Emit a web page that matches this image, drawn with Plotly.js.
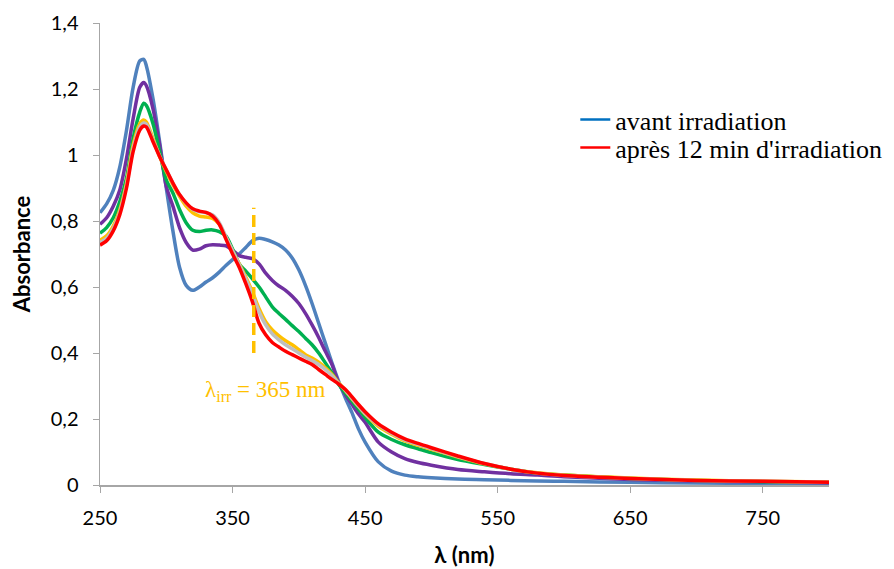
<!DOCTYPE html>
<html>
<head>
<meta charset="utf-8">
<script src="https://cdn.plot.ly/plotly-3.0.1.min.js"></script>
<style>html,body{margin:0;padding:0;background:#fff;}#chart{width:894px;height:569px;}</style>
</head>
<body>
<div id="chart"></div>
<script>
const wavelength = [250,255,260,265,270,275,280,283,285,290,295,300,305,310,315,320,325,330,335,340,345,350,355,360,365,370,375,380,385,390,395,400,405,410,415,420,425,430,435,440,445,450,460,470,480,490,500,520,540,560,580,600,650,700,750,800];

const absBefore = [0.825,0.852,0.893,0.965,1.075,1.205,1.285,1.29,1.27,1.17,1.04,0.90,0.77,0.66,0.605,0.59,0.60,0.615,0.628,0.645,0.665,0.683,0.70,0.72,0.74,0.748,0.744,0.737,0.727,0.712,0.688,0.652,0.605,0.55,0.49,0.43,0.37,0.315,0.265,0.22,0.17,0.13,0.07,0.042,0.03,0.025,0.022,0.018,0.016,0.014,0.012,0.011,0.008,0.006,0.005,0.004];

const absPurple = [0.79,0.81,0.845,0.895,0.99,1.11,1.205,1.22,1.21,1.14,1.03,0.905,0.845,0.78,0.735,0.712,0.715,0.725,0.728,0.727,0.725,0.712,0.695,0.69,0.686,0.67,0.642,0.62,0.603,0.59,0.572,0.55,0.52,0.485,0.447,0.405,0.365,0.31,0.275,0.245,0.215,0.19,0.13,0.10,0.08,0.068,0.06,0.047,0.04,0.034,0.03,0.025,0.017,0.012,0.009,0.007];

const absGreen = [0.763,0.78,0.81,0.86,0.93,1.05,1.13,1.157,1.15,1.095,1.01,0.925,0.885,0.835,0.795,0.772,0.768,0.772,0.773,0.768,0.755,0.715,0.67,0.648,0.625,0.60,0.57,0.54,0.52,0.502,0.483,0.465,0.445,0.425,0.40,0.37,0.34,0.305,0.28,0.255,0.23,0.205,0.16,0.138,0.122,0.11,0.098,0.077,0.062,0.048,0.036,0.03,0.02,0.014,0.01,0.008];

const absYellow = [0.742,0.755,0.785,0.835,0.915,1.03,1.095,1.106,1.10,1.05,0.995,0.95,0.91,0.875,0.845,0.825,0.815,0.812,0.808,0.79,0.75,0.71,0.67,0.63,0.585,0.535,0.495,0.47,0.452,0.437,0.425,0.41,0.395,0.385,0.372,0.355,0.335,0.31,0.287,0.262,0.238,0.215,0.178,0.154,0.134,0.12,0.108,0.085,0.064,0.048,0.037,0.03,0.021,0.015,0.011,0.009];

const absGray = [0.735,0.748,0.778,0.828,0.908,1.02,1.085,1.097,1.093,1.045,0.997,0.955,0.915,0.88,0.853,0.835,0.828,0.825,0.818,0.795,0.752,0.71,0.668,0.625,0.578,0.525,0.485,0.458,0.44,0.425,0.413,0.40,0.388,0.377,0.365,0.35,0.332,0.308,0.288,0.263,0.239,0.217,0.182,0.157,0.137,0.123,0.11,0.086,0.065,0.048,0.036,0.029,0.02,0.014,0.011,0.008];

const absAfter = [0.727,0.74,0.77,0.82,0.90,1.01,1.075,1.088,1.085,1.04,0.995,0.955,0.915,0.88,0.855,0.837,0.83,0.826,0.815,0.79,0.745,0.70,0.66,0.61,0.555,0.49,0.455,0.432,0.418,0.405,0.395,0.385,0.375,0.365,0.35,0.335,0.32,0.306,0.29,0.268,0.244,0.222,0.185,0.16,0.14,0.126,0.113,0.088,0.065,0.048,0.036,0.029,0.02,0.014,0.011,0.008];

const yTickVals = [0,0.2,0.4,0.6,0.8,1,1.2,1.4];
const yTickText = ["0","0,2","0,4","0,6","0,8","1","1,2","1,4"];
const xTickVals = [250,350,450,550,650,750];
const legendNames = ["avant irradiation","après 12 min d'irradiation"];
const irrWavelength = 366;

function curve(y, color, width) {
  return {x: wavelength, y: y, type: 'scatter', mode: 'lines', showlegend: false,
          line: {color: color, width: width, shape: 'spline', smoothing: 0.8}, hoverinfo: 'skip'};
}

const traces = [
  curve(absBefore, '#4F81BD', 3.5),
  curve(absPurple, '#7030A0', 3.5),
  curve(absGreen, '#00B050', 3.5),
  curve(absYellow, '#FFC000', 3.5),
  curve(absGray, '#BFBFBF', 3.5),
  curve(absAfter, '#FF0000', 3.5),
  {x: [null], y: [null], type: 'scatter', mode: 'lines', name: legendNames[0], legend: 'legend', line: {color: '#0070C0', width: 2.5}},
  {x: [null], y: [null], type: 'scatter', mode: 'lines', name: legendNames[1], legend: 'legend2', line: {color: '#FF0000', width: 2.5}}
];

const legendFont = {family: '"Liberation Serif", "Times New Roman", serif', size: 26, color: '#000'};

const layout = {
  width: 894, height: 569,
  margin: {l: 100, r: 65, t: 23, b: 84, autoexpand: false},
  paper_bgcolor: '#fff', plot_bgcolor: '#fff',
  font: {family: 'Lato, "Open Sans", sans-serif', color: '#000', size: 20},
  xaxis: {
    range: [250, 800], tickvals: xTickVals, ticks: 'outside', ticklen: 6, tickcolor: '#A6A6A6',
    showline: true, linecolor: '#A6A6A6', linewidth: 1.5, showgrid: false, zeroline: false,
    tickfont: {size: 20, family: 'Lato, sans-serif'}, ticklabelstandoff: 8,
    title: {text: '<b>λ (nm)</b>', font: {size: 22, family: 'Lato, sans-serif'}, standoff: 20}
  },
  yaxis: {
    range: [0, 1.4], tickvals: yTickVals, ticktext: yTickText, ticks: 'outside', ticklen: 6, tickcolor: '#A6A6A6',
    showline: true, linecolor: '#A6A6A6', linewidth: 1.5, showgrid: false, zeroline: false,
    tickfont: {size: 20, family: 'Lato, sans-serif'}, ticklabelstandoff: 10,
    title: {text: '<b>Absorbance</b>', font: {size: 22, family: 'Lato, sans-serif'}, standoff: 14}
  },
  legend: {
    x: 0.652, y: 0.842, xanchor: 'left', yanchor: 'top', bgcolor: 'rgba(0,0,0,0)',
    font: legendFont, itemwidth: 30
  },
  legend2: {
    x: 0.652, y: 0.781, xanchor: 'left', yanchor: 'top', bgcolor: 'rgba(0,0,0,0)',
    font: legendFont, itemwidth: 30
  },
  shapes: [{
    type: 'line', xref: 'x', yref: 'y', x0: irrWavelength, x1: irrWavelength, y0: 0.40, y1: 0.84,
    line: {color: '#FFC000', width: 3.5, dash: '12px,6px'}
  }],
  annotations: [{
    xref: 'x', yref: 'y', x: irrWavelength, y: 0.285, xshift: 12, showarrow: false,
    text: 'λ<sub>irr</sub> = 365 nm',
    font: {family: '"Liberation Serif", "Times New Roman", serif', size: 23, color: '#FFC000'}
  }]
};

Plotly.newPlot('chart', traces, layout, {staticPlot: true});
</script>
</body>
</html>
